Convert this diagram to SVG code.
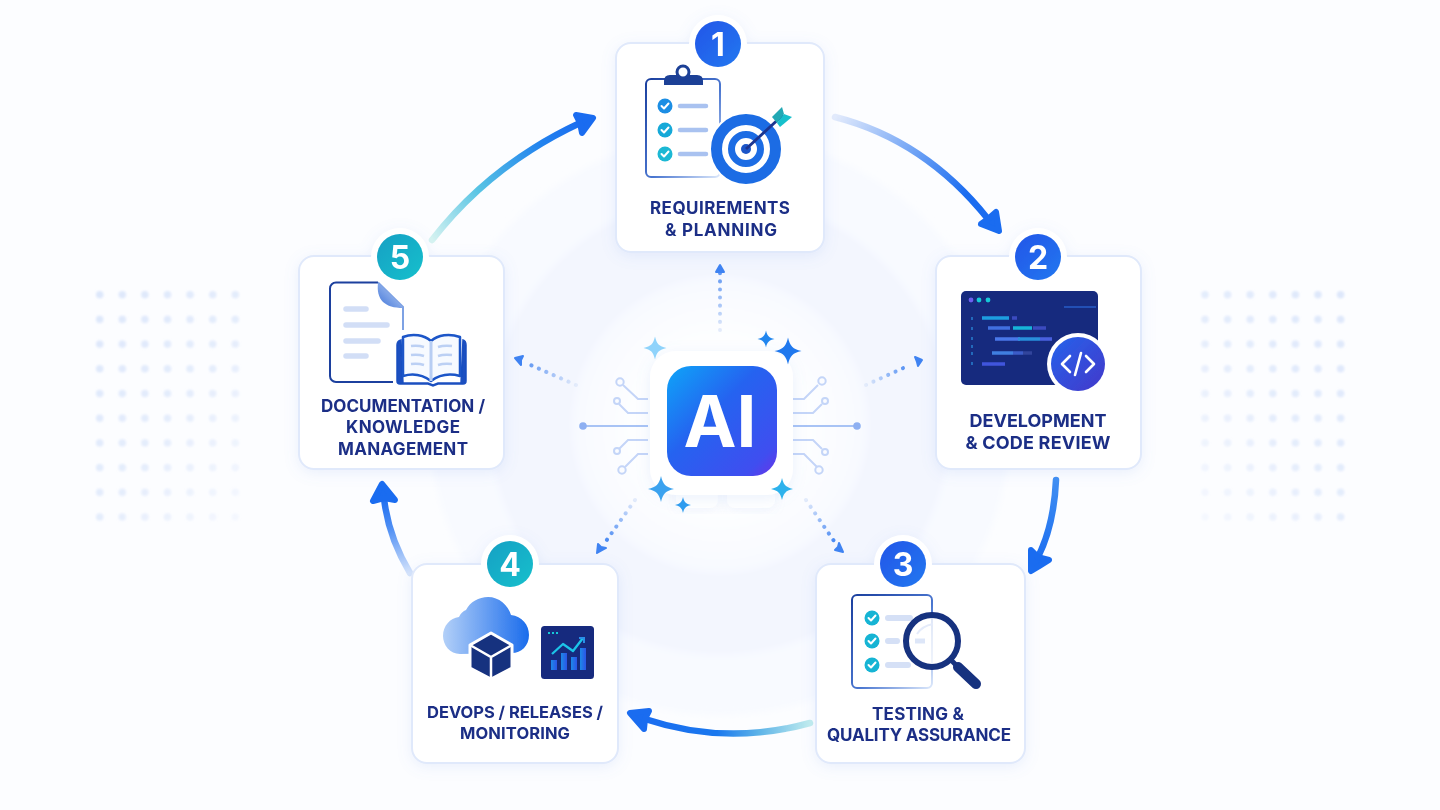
<svg xmlns="http://www.w3.org/2000/svg" width="1440" height="810" viewBox="0 0 1440 810">
<defs>
<style>
.t{font-family:Inter,"Liberation Sans",sans-serif;font-weight:700;font-size:17px;fill:#1a2f86;text-anchor:middle}
.b{font-family:Inter,"Liberation Sans",sans-serif;font-weight:700;font-size:32px;fill:#fff;text-anchor:middle}
.card{fill:#fff;stroke:#e0e9fb;stroke-width:2}
.ring{fill:#fff}
.a{fill:none;stroke-width:6.500;stroke-linecap:round}
.h{fill:#1a6cf0;stroke:#1a6cf0;stroke-width:6;stroke-linejoin:round}
.d{fill:none;stroke-width:4;stroke-linecap:round;stroke-dasharray:.1 8}
.dh{fill:#3f83f2;stroke:#3f83f2;stroke-width:2;stroke-linejoin:round}
.c{fill:none;stroke:#c4d5f8;stroke-width:2}
.ck{fill:none;stroke:#fff;stroke-width:2;stroke-linecap:round;stroke-linejoin:round}
.l{stroke-width:4.500;stroke-linecap:round}
</style>
<filter id="sh" x="-20%" y="-20%" width="140%" height="140%"><feDropShadow dx="0" dy="3" stdDeviation="7" flood-color="#7b9ce8" flood-opacity=".14"/></filter>
<filter id="bl" x="-10%" y="-10%" width="120%" height="120%"><feGaussianBlur stdDeviation="3"/></filter>
<filter id="bd" x="-5%" y="-5%" width="110%" height="110%"><feGaussianBlur stdDeviation="1.300"/></filter>
<radialGradient id="g1" cx="720" cy="425" r="150" gradientUnits="userSpaceOnUse"><stop offset="0" stop-color="#fff"/><stop offset=".6" stop-color="#fdfeff"/><stop offset="1" stop-color="#f7f9ff"/></radialGradient>
<linearGradient id="a1" gradientUnits="userSpaceOnUse" x1="835" y1="117" x2="992" y2="224"><stop offset="0" stop-color="#e3ebfc"/><stop offset=".45" stop-color="#6ea2f5"/><stop offset=".8" stop-color="#1a6cf0"/></linearGradient>
<linearGradient id="a2" gradientUnits="userSpaceOnUse" x1="1056" y1="480" x2="1034" y2="565"><stop offset="0" stop-color="#3f8ef2"/><stop offset="1" stop-color="#1a6cf0"/></linearGradient>
<linearGradient id="a3" gradientUnits="userSpaceOnUse" x1="810" y1="723" x2="642" y2="718"><stop offset="0" stop-color="#c0ecee"/><stop offset=".3" stop-color="#5eb4e8"/><stop offset=".55" stop-color="#1a78ee"/><stop offset="1" stop-color="#1a6cf0"/></linearGradient>
<linearGradient id="a4" gradientUnits="userSpaceOnUse" x1="410" y1="573" x2="384" y2="496"><stop offset="0" stop-color="#d6e4fb"/><stop offset=".6" stop-color="#4f8ff4"/><stop offset="1" stop-color="#1a6cf0"/></linearGradient>
<linearGradient id="a5" gradientUnits="userSpaceOnUse" x1="432" y1="240" x2="582" y2="122"><stop offset="0" stop-color="#d6f3f1"/><stop offset=".35" stop-color="#58c4e4"/><stop offset=".75" stop-color="#2384ee"/><stop offset="1" stop-color="#1a6cf0"/></linearGradient>
<linearGradient id="d1" gradientUnits="userSpaceOnUse" x1="720" y1="330" x2="720" y2="272"><stop offset="0" stop-color="#e3ebfb"/><stop offset="1" stop-color="#5f96f2"/></linearGradient>
<linearGradient id="d2" gradientUnits="userSpaceOnUse" x1="866" y1="385" x2="912" y2="364"><stop offset="0" stop-color="#e3ebfb"/><stop offset="1" stop-color="#3f83f2"/></linearGradient>
<linearGradient id="d3" gradientUnits="userSpaceOnUse" x1="576" y1="385" x2="526" y2="363"><stop offset="0" stop-color="#e3ebfb"/><stop offset="1" stop-color="#5f96f2"/></linearGradient>
<linearGradient id="d4" gradientUnits="userSpaceOnUse" x1="635" y1="500" x2="604" y2="544"><stop offset="0" stop-color="#e3ebfb"/><stop offset="1" stop-color="#3f83f2"/></linearGradient>
<linearGradient id="d5" gradientUnits="userSpaceOnUse" x1="806" y1="500" x2="836" y2="544"><stop offset="0" stop-color="#e3ebfb"/><stop offset="1" stop-color="#3f83f2"/></linearGradient>
<linearGradient id="bB" x1="0" y1="0" x2="1" y2="1"><stop offset="0" stop-color="#1f55e8"/><stop offset="1" stop-color="#2478f0"/></linearGradient>
<linearGradient id="bT" x1="0" y1="0" x2="1" y2="1"><stop offset="0" stop-color="#18a0c4"/><stop offset="1" stop-color="#12c0cc"/></linearGradient>
<linearGradient id="ai" x1="0" y1="0" x2="1" y2="1"><stop offset="0" stop-color="#0ea5f8"/><stop offset=".42" stop-color="#2563f0"/><stop offset=".85" stop-color="#3f4ef0"/><stop offset="1" stop-color="#6a34e8"/></linearGradient>
<linearGradient id="clg" x1="0" y1="0" x2="1" y2="0"><stop offset="0" stop-color="#b3d0f8"/><stop offset="1" stop-color="#1a6cec"/></linearGradient>
<linearGradient id="tl" x1="0" y1="0" x2="1" y2="1"><stop offset="0" stop-color="#1b3f9e"/><stop offset=".55" stop-color="#4a76d0"/><stop offset="1" stop-color="#dce8fb"/></linearGradient>
<linearGradient id="fold" x1="0" y1="1" x2="1" y2="0"><stop offset="0" stop-color="#3f74d8"/><stop offset="1" stop-color="#c5d8f8"/></linearGradient>
<linearGradient id="bar" x1="0" y1="0" x2="1" y2="0"><stop offset="0" stop-color="#1e88e8"/><stop offset="1" stop-color="#2a55e8"/></linearGradient>
<linearGradient id="code" x1="0" y1="0" x2="1" y2="1"><stop offset="0" stop-color="#2563eb"/><stop offset="1" stop-color="#4338ca"/></linearGradient>
<pattern id="dots" x="96" y="291" width="22.600" height="24.700" patternUnits="userSpaceOnUse"><circle cx="3.700" cy="3.700" r="3.700" fill="#dbe6fb"/></pattern>
<pattern id="dotsR" x="1201.300" y="291" width="22.600" height="24.700" patternUnits="userSpaceOnUse"><circle cx="3.700" cy="3.700" r="3.700" fill="#dbe6fb"/></pattern>
<linearGradient id="fL" x1="0" y1="0" x2="1" y2="1"><stop offset="0" stop-color="#fff"/><stop offset=".55" stop-color="#fff" stop-opacity=".7"/><stop offset="1" stop-color="#fff" stop-opacity=".12"/></linearGradient>
<linearGradient id="fR" x1="1" y1="0" x2="0" y2="1"><stop offset="0" stop-color="#fff"/><stop offset=".55" stop-color="#fff" stop-opacity=".7"/><stop offset="1" stop-color="#fff" stop-opacity=".12"/></linearGradient>
<mask id="mL" maskUnits="userSpaceOnUse" x="85" y="280" width="170" height="250"><rect x="85" y="280" width="170" height="250" fill="url(#fL)"/></mask>
<mask id="mR" maskUnits="userSpaceOnUse" x="1190" y="280" width="170" height="250"><rect x="1190" y="280" width="170" height="250" fill="url(#fR)"/></mask>
<path id="star" d="M0-10C1.500-3.500 3.500-1.500 10 0C3.500 1.500 1.500 3.500 0 10C-1.500 3.500-3.500 1.500-10 0C-3.500-1.500-1.500-3.500 0-10Z"/>
<g id="chk"><path class="ck" d="M-3.500 0L-1 2.500L3.500-2.500"/></g>
</defs>
<rect id="bg" width="1440" height="810" fill="#fcfdff"/>
<g filter="url(#bl)">
<circle cx="720" cy="425" r="290" fill="#f8faff"/>
<circle cx="720" cy="425" r="230" fill="#f3f6fe"/>
<circle cx="720" cy="425" r="148" fill="url(#g1)"/>
</g>
<g filter="url(#bd)">
<rect x="96" y="291" width="145" height="232" fill="url(#dots)" mask="url(#mL)"/>
<rect x="1201" y="291" width="145" height="232" fill="url(#dotsR)" mask="url(#mR)"/>
</g>
<g id="connectors">
<path class="a" stroke="url(#a1)" d="M835 117Q925 140 988 219"/>
<path class="h" d="M999 231L981 224L988 219L996 212Z"/>
<path class="a" stroke="url(#a2)" d="M1056 480Q1054 525 1038 557"/>
<path class="h" d="M1031 571L1031 550L1038 557L1049 560Z"/>
<path class="a" stroke="url(#a3)" d="M810 723Q726 746 645 719"/>
<path class="h" d="M630 713L649 711L645 719L644 729Z"/>
<path class="a" stroke="url(#a4)" d="M410 573Q388 536 384 498"/>
<path class="h" d="M382 484L373 501L384 498L395 500Z"/>
<path class="a" stroke="url(#a5)" d="M432 240Q490 165 580 123"/>
<path class="h" d="M593 118L576 115L580 123L582 133Z"/>
<g>
<path class="d" stroke="url(#d1)" d="M720 330V272"/><path class="dh" d="M720 265l-4 7h8z"/>
<path class="d" stroke="url(#d2)" d="M866 385L910 365"/><path class="dh" d="M922 360l-7-3 2 5 1 4z"/>
<path class="d" stroke="url(#d3)" d="M576 385L526 363"/><path class="dh" d="M515 358l8-2-2 4 0 5z"/>
<path class="d" stroke="url(#d4)" d="M635 500L604 544"/><path class="dh" d="M597 553l1-9 3 3 5 1z"/>
<path class="d" stroke="url(#d5)" d="M806 500L836 544"/><path class="dh" d="M843 552l-8-2 3-3 1-4z"/>
</g>
</g>
<g id="hub">
<g class="c">
<path d="M648 399H638L623 385"/><circle cx="620" cy="382" r="3.700"/>
<path d="M648 413H628L619 404"/><circle cx="617" cy="401" r="3"/>
<path d="M648 440H628L619 449"/><circle cx="617" cy="451" r="3"/>
<path d="M648 454H638L625 467"/><circle cx="622" cy="470" r="3.700"/>
<path d="M793 399H804L818 385"/><circle cx="822" cy="381" r="3.700"/>
<path d="M793 413H813L822 404"/><circle cx="825" cy="401" r="3"/>
<path d="M793 440H813L822 449"/><circle cx="825" cy="452" r="3"/>
<path d="M793 454H804L817 467"/><circle cx="819" cy="470" r="3.700"/>
</g>
<path d="M584 426H648M793 426H857" stroke="#a8c3f5" stroke-width="2.200"/>
<circle cx="583" cy="426" r="3.800" fill="#8eb0f2"/><circle cx="857" cy="426" r="3.800" fill="#8eb0f2"/>
<g opacity=".6"><rect x="676" y="480" width="42" height="28" rx="8" fill="#fff" filter="url(#sh)"/>
<rect x="727" y="480" width="48" height="28" rx="8" fill="#fff" filter="url(#sh)"/></g>
<rect x="650" y="351" width="143" height="144" rx="26" fill="#fff" filter="url(#sh)"/>
<rect x="667" y="366" width="110" height="110" rx="24" fill="url(#ai)"/>
<text id="ait" x="720" y="447" font-family="Inter,'Liberation Sans',sans-serif" font-weight="700" font-size="71" fill="#fff" text-anchor="middle">AI</text>
<use href="#star" transform="translate(655,348) scale(1.150)" fill="#8fd3fb"/>
<use href="#star" transform="translate(766,339) scale(.85)" fill="#2186ef"/>
<use href="#star" transform="translate(788,351) scale(1.350)" fill="#1f78ee"/>
<use href="#star" transform="translate(661,489) scale(1.300)" fill="#3ba2ef"/>
<use href="#star" transform="translate(683,505) scale(.8)" fill="#2e9cef"/>
<use href="#star" transform="translate(782,489) scale(1.100)" fill="#2eb2ec"/>
</g>
<g id="node1" filter="url(#sh)">
<rect class="card" x="616" y="43" width="208" height="209" rx="15"/>
<circle class="ring" cx="718" cy="44" r="29"/>
<circle cx="718" cy="44" r="23" fill="url(#bB)"/>
<text class="b" x="718" y="56">1</text>
<rect x="646" y="79" width="74" height="98" rx="5" fill="#fff" stroke="url(#tl)" stroke-width="2"/>
<path d="M664 81Q664 75 670 75H697Q703 75 703 81V85H664Z" fill="#1b3f96"/>
<circle cx="683" cy="72" r="6" fill="#fff" stroke="#1b3f96" stroke-width="3"/>
<circle cx="665" cy="106" r="7.500" fill="#1c8ee4"/><use href="#chk" x="665" y="106"/>
<circle cx="665" cy="130" r="7.500" fill="#18a9d8"/><use href="#chk" x="665" y="130"/>
<circle cx="665" cy="154" r="7.500" fill="#1ab8d4"/><use href="#chk" x="665" y="154"/>
<path class="l" stroke="#a9c2f0" d="M680 106H706M680 130H706M680 154H706"/>
<circle cx="746" cy="149" r="37" fill="#fff"/>
<circle cx="746" cy="149" r="29.500" fill="none" stroke="#1a6ce4" stroke-width="11"/>
<circle cx="746" cy="149" r="14.500" fill="none" stroke="#1a6ce4" stroke-width="7"/>
<circle cx="746" cy="149" r="5" fill="#1a55c8"/>
<path d="M746 149L783 115" stroke="#1b3490" stroke-width="3"/>
<path d="M772 117L782 107L784 114L777 123Z" fill="#22a8b4"/>
<path d="M784 114L792 117L780 127L777 123Z" fill="#18c0cc"/>
<text class="t" x="720" y="214" textLength="140">REQUIREMENTS</text>
<text class="t" x="721" y="236" textLength="112">&amp; PLANNING</text>
</g>
<g id="node2" filter="url(#sh)">
<rect class="card" x="936" y="256" width="205" height="213" rx="15"/>
<circle class="ring" cx="1038" cy="257" r="29"/>
<circle cx="1038" cy="257" r="23" fill="url(#bB)"/>
<text class="b" x="1038" y="269">2</text>
<rect x="961" y="291" width="137" height="94" rx="5" fill="#14297e"/>
<circle cx="971" cy="300" r="2.400" fill="#6d5ff0"/><circle cx="979" cy="300" r="2.400" fill="#19c8d8"/><circle cx="988" cy="300" r="2.400" fill="#19c8d8"/>
<path d="M1064 307H1096" stroke="#2a5cc8" stroke-width="1.500"/>
<g stroke-width="3.500">
<path stroke="#1d9ee0" d="M982 318H1009"/><path stroke="#3a4cc0" d="M1012 318H1017"/>
<path stroke="#3f6fe0" d="M988 328H1010"/><path stroke="#18b4d8" d="M1013 328H1032"/><path stroke="#3a4cc0" d="M1033 328H1046"/>
<path stroke="#4a78ea" d="M995 339H1020"/><path stroke="#2a90dc" d="M1018 339H1040"/><path stroke="#4a60e0" d="M1040 339H1052"/>
<path stroke="#3f7fe0" d="M992 353H1013"/><path stroke="#3a5cc8" d="M1013 353H1023"/><path stroke="#32459c" d="M1023 353H1032"/>
<path stroke="#3f55dc" d="M982 364H1005"/>
</g>
<path d="M972 317v3M972 327v3M972 337v3M972 345v3M972 352v3M972 362v3" stroke="#2a7fd0" stroke-width="1.500"/>
<circle cx="1078" cy="364" r="31" fill="#fff"/>
<circle cx="1078" cy="364" r="27" fill="url(#code)"/>
<path d="M1070 356L1062 364L1070 372M1086 356L1094 364L1086 372M1081 353L1075 375" fill="none" stroke="#fff" stroke-width="2.600" stroke-linecap="round" stroke-linejoin="round"/>
<text class="t" x="1038" y="427" style="font-size:18px" textLength="137">DEVELOPMENT</text>
<text class="t" x="1038" y="449" style="font-size:18px" textLength="145">&amp; CODE REVIEW</text>
</g>
<g id="node3" filter="url(#sh)">
<rect class="card" x="816" y="564" width="209" height="199" rx="15"/>
<circle class="ring" cx="903" cy="564" r="29"/>
<circle cx="903" cy="564" r="23" fill="url(#bB)"/>
<text class="b" x="903" y="576">3</text>
<rect x="852" y="595" width="80" height="93" rx="5" fill="#fff" stroke="url(#tl)" stroke-width="2"/>
<circle cx="872" cy="618" r="7.500" fill="#14b4d4"/><use href="#chk" x="872" y="618"/>
<circle cx="872" cy="641" r="7.500" fill="#14b4d4"/><use href="#chk" x="872" y="641"/>
<circle cx="872" cy="665" r="7.500" fill="#14b4d4"/><use href="#chk" x="872" y="665"/>
<path stroke="#d5e0f6" stroke-width="6" stroke-linecap="round" d="M888 618H910M888 641H897M888 665H908"/>
<circle cx="932" cy="641" r="26" fill="#fff" fill-opacity=".8" stroke="#17307f" stroke-width="6"/>
<path d="M915 641H925" stroke="#dde6f8" stroke-width="5"/>
<path d="M917 634Q922 626 933 624" fill="none" stroke="#e4ebfa" stroke-width="2"/>
<path d="M951 660L958 667" stroke="#17307f" stroke-width="5"/>
<path d="M958 667L976 684" stroke="#17307f" stroke-width="10" stroke-linecap="round"/>
<text class="t" x="918" y="720" textLength="92">TESTING &amp;</text>
<text class="t" x="919" y="741" textLength="184">QUALITY ASSURANCE</text>
</g>
<g id="node4" filter="url(#sh)">
<rect class="card" x="412" y="564" width="206" height="199" rx="15"/>
<circle class="ring" cx="510" cy="564" r="29"/>
<circle cx="510" cy="564" r="23" fill="url(#bT)"/>
<text class="b" x="510" y="576">4</text>
<path d="M460 654C450 654 443 645 443 636C443 626 450 618 459 617C461 613 463 611 466 610C470 602 479 597 488 597C499 597 508 605 511 615C522 616 529 625 529 635C529 646 521 653 512 653Z" fill="url(#clg)"/>
<path d="M491 633L512 645V668L491 679L470 668V645Z" fill="#17307f" stroke="#fff" stroke-width="3" stroke-linejoin="round"/>
<path d="M470 645L491 657L512 645M491 657V679" fill="none" stroke="#fff" stroke-width="2.500"/>
<rect x="541" y="626" width="53" height="53" rx="3.500" fill="#14297e"/>
<path d="M548 633h2M552 633h2M556 633h2" stroke="#19c8d8" stroke-width="2"/>
<path d="M552 654L563 644L573 651L583 638" fill="none" stroke="#1cc4e8" stroke-width="2.300" stroke-linejoin="round"/>
<path d="M579 638H584V643" fill="none" stroke="#2a8fe8" stroke-width="2"/>
<rect x="551" y="660" width="6" height="10" fill="url(#bar)"/><rect x="561" y="653" width="6" height="17" fill="url(#bar)"/><rect x="571" y="657" width="6" height="13" fill="url(#bar)"/><rect x="580" y="648" width="6" height="22" fill="url(#bar)"/>
<text class="t" x="515" y="718" style="font-size:16.500px" textLength="176">DEVOPS / RELEASES /</text>
<text class="t" x="515" y="739" style="font-size:16.500px" textLength="110">MONITORING</text>
</g>
<g id="node5" filter="url(#sh)">
<rect class="card" x="299" y="256" width="205" height="213" rx="15"/>
<circle class="ring" cx="400" cy="257" r="29"/>
<circle cx="400" cy="257" r="23" fill="url(#bT)"/>
<text class="b" x="400" y="269">5</text>
<path d="M378 282.500H336a6 6 0 0 0-6 6V376a6 6 0 0 0 6 6H393" fill="none" stroke="#1b3f9e" stroke-width="2"/>
<path d="M378 282.500L403 307V330" fill="none" stroke="#7ea2e4" stroke-width="2"/>
<path d="M378 283C376 300 385 308 403 308Z" fill="url(#fold)"/>
<path stroke="#d2def6" stroke-width="5.500" stroke-linecap="round" d="M346 309H366M346 325H387M346 341H378M346 356H366"/>
<path d="M397 345Q397 341 401 340L403 383H428L433 385L438 383H461L463 340Q466 341 466 345V381Q466 384 463 384H438L433 386L428 384H400Q397 384 397 381Z" fill="#1a4fc0" stroke="#1a4fc0" stroke-width="1.500"/>
<path d="M403 337C413 333 424 335 431 341C438 335 449 333 460 337V376C449 373 439 375 431 381C423 375 413 373 403 376Z" fill="#f7faff" stroke="#1a55c8" stroke-width="2.500" stroke-linejoin="round"/>
<path d="M431 341V381" stroke="#b7cdf3" stroke-width="3"/>
<path d="M411 346Q418 345 424 347M411 355Q418 354 424 356M411 364Q418 363 424 365M438 347Q444 345 452 346M438 356Q444 354 452 355M438 365Q444 363 452 364" fill="none" stroke="#bcd0f4" stroke-width="2.500"/>
<text class="t" x="403" y="412" textLength="164">DOCUMENTATION /</text>
<text class="t" x="403" y="433" textLength="114">KNOWLEDGE</text>
<text class="t" x="403" y="455" textLength="130">MANAGEMENT</text>
</g>
</svg>
